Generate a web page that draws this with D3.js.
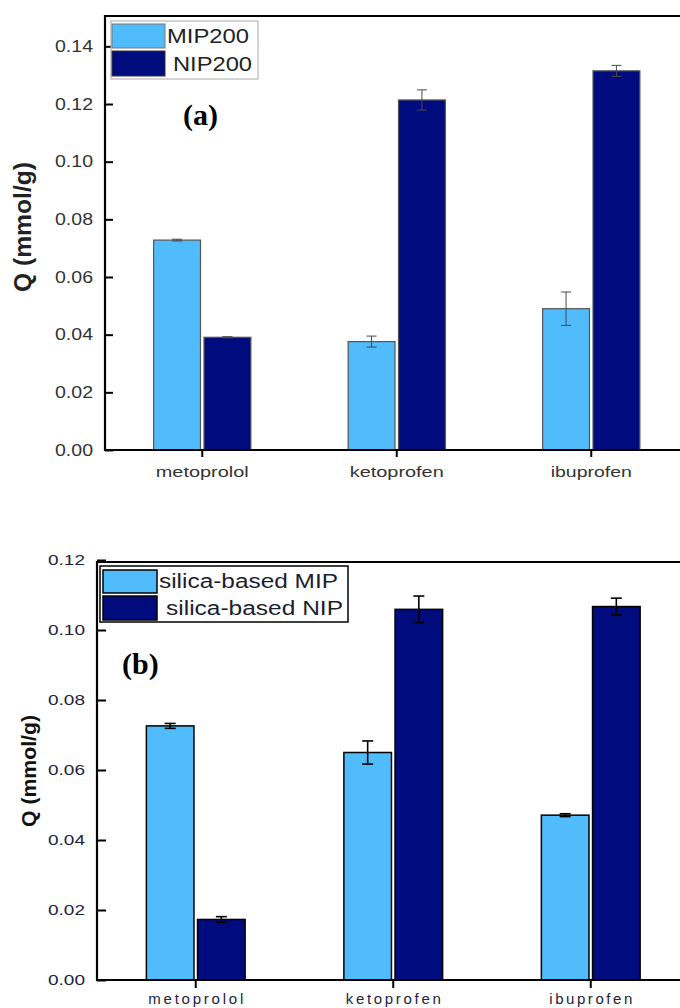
<!DOCTYPE html>
<html>
<head>
<meta charset="utf-8">
<script src="https://cdn.jsdelivr.net/npm/d3@7"></script>
<style>
  html, body { margin: 0; padding: 0; background: #fff; }
  svg { display: block; }
</style>
</head>
<body>
<svg id="chart" width="680" height="1008"></svg>
<script>
// ---------- data ----------
const categories = ["metoprolol", "ketoprofen", "ibuprofen"];

// panel (a)
const seriesA = ["MIP200", "NIP200"];
const mip200 = [0.0728, 0.0376, 0.0490];
const mip200Err = [0.0003, 0.0019, 0.0058];
const nip200 = [0.0391, 0.1214, 0.1315];
const nip200Err = [0.0002, 0.0035, 0.0019];
const ticksA = [0.00, 0.02, 0.04, 0.06, 0.08, 0.10, 0.12, 0.14];

// panel (b)
const seriesB = ["silica-based MIP", "silica-based NIP"];
const silicaMip = [0.0726, 0.0650, 0.0471];
const silicaMipErr = [0.0007, 0.0033, 0.0004];
const silicaNip = [0.0173, 0.1059, 0.1067];
const silicaNipErr = [0.0008, 0.0038, 0.0024];
const ticksB = [0.00, 0.02, 0.04, 0.06, 0.08, 0.10, 0.12];

const yLabel = "Q (mmol/g)";
const colors = ["#50bcfc", "#000c7d"];

const svg = d3.select("#chart");
const sans = "'Liberation Sans', Arial, sans-serif";
const serif = "'Liberation Serif', 'Times New Roman', serif";

function panel(cfg) {
  const g = svg.append("g");
  const x = d3.scaleBand().domain(categories).range([cfg.left, cfg.right])
    .paddingInner(0.5).paddingOuter(0.25);
  const sub = d3.scaleBand().domain(cfg.series).range([0, x.bandwidth()]).paddingInner(0.07);
  const y = d3.scaleLinear().domain(cfg.domain).range([cfg.bottom, cfg.top]);

  const rows = [];
  categories.forEach((c, i) => {
    cfg.values.forEach((vals, s) => {
      rows.push({cat: c, series: cfg.series[s], v: vals[i], e: cfg.errs[s][i], s});
    });
  });

  // bars
  g.selectAll("rect.bar").data(rows).join("rect")
    .attr("class", "bar")
    .attr("x", d => x(d.cat) + sub(d.series))
    .attr("width", sub.bandwidth())
    .attr("y", d => y(d.v))
    .attr("height", d => y(0) - y(d.v))
    .attr("fill", d => colors[d.s])
    .attr("stroke", cfg.barStroke)
    .attr("stroke-width", cfg.barStrokeW);

  // error bars
  const eg = g.selectAll("g.err").data(rows).join("g").attr("class", "err")
    .attr("stroke", cfg.errColor).attr("stroke-width", cfg.errW);
  eg.append("line")
    .attr("x1", d => x(d.cat) + sub(d.series) + sub.bandwidth() / 2)
    .attr("x2", d => x(d.cat) + sub(d.series) + sub.bandwidth() / 2)
    .attr("y1", d => y(d.v + d.e)).attr("y2", d => y(d.v - d.e));
  [1, -1].forEach(k => {
    eg.append("line")
      .attr("x1", d => x(d.cat) + sub(d.series) + sub.bandwidth() / 2 - cfg.cap)
      .attr("x2", d => x(d.cat) + sub(d.series) + sub.bandwidth() / 2 + cfg.cap)
      .attr("y1", d => y(d.v + k * d.e)).attr("y2", d => y(d.v + k * d.e));
  });

  // y axis (ticks inward)
  const ya = g.append("g").attr("transform", `translate(${cfg.left},0)`)
    .call(d3.axisLeft(y).tickValues(cfg.ticks).tickFormat(d3.format(".2f"))
      .tickSize(-cfg.yTick).tickPadding(12));
  ya.select(".domain").remove();
  ya.selectAll(".tick line").attr("stroke", "#000").attr("stroke-width", 2);
  ya.selectAll(".tick text")
    .attr("fill", cfg.tickColor)
    .style("font-family", sans).style("font-size", cfg.yFont + "px")
    .attr("textLength", cfg.yTextLen).attr("lengthAdjust", "spacingAndGlyphs");

  // x axis
  const xa = g.append("g").attr("transform", `translate(0,${cfg.bottom})`)
    .call(d3.axisBottom(x).tickSize(cfg.xTick).tickSizeOuter(0));
  xa.select(".domain").remove();
  xa.selectAll(".tick line").attr("stroke", "#000").attr("stroke-width", 2);
  xa.selectAll(".tick text")
    .attr("dy", null).attr("y", cfg.xLabelY)
    .attr("fill", cfg.tickColor)
    .style("font-family", sans).style("font-size", cfg.xFont + "px")
    .attr("textLength", (d, i) => cfg.xTextLen[i]).attr("lengthAdjust", cfg.xAdjust);

  // frame (open to the right, cut by the picture edge)
  g.append("path")
    .attr("d", `M${cfg.right},${cfg.frameTop}H${cfg.left}V${cfg.bottom}H${cfg.right}`)
    .attr("fill", "none").attr("stroke", "#000").attr("stroke-width", 2.2);

  // y label
  g.append("text")
    .attr("transform", `translate(${cfg.yLabelX},${cfg.yLabelY}) rotate(-90)`)
    .attr("text-anchor", "middle")
    .attr("fill", cfg.labelColor)
    .style("font-family", sans).style("font-size", cfg.yLabelFont + "px")
    .style("font-weight", "bold")
    .attr("textLength", cfg.yLabelLen).attr("lengthAdjust", "spacingAndGlyphs")
    .text(yLabel);

  // legend
  const L = cfg.legend;
  g.append("rect").attr("x", L.x).attr("y", L.y).attr("width", L.w).attr("height", L.h)
    .attr("fill", "#fff").attr("stroke", L.stroke).attr("stroke-width", L.strokeW);
  cfg.series.forEach((s, i) => {
    const it = L.items[i];
    g.append("rect").attr("x", it.sx).attr("y", it.sy).attr("width", it.sw).attr("height", it.sh)
      .attr("fill", colors[i]).attr("stroke", it.sstroke).attr("stroke-width", L.swStrokeW);
    g.append("text").attr("x", it.tx).attr("y", it.ty)
      .attr("fill", L.textColor)
      .style("font-family", sans).style("font-size", L.font + "px")
      .attr("textLength", it.tl).attr("lengthAdjust", "spacingAndGlyphs")
      .text(s);
  });

  // panel tag
  g.append("text").attr("x", cfg.tag.x).attr("y", cfg.tag.y)
    .style("font-family", serif).style("font-size", cfg.tag.font + "px")
    .style("font-weight", "bold").attr("fill", "#000")
    .text(cfg.tag.text);
}

panel({
  series: seriesA, values: [mip200, nip200], errs: [mip200Err, nip200Err],
  ticks: ticksA, domain: [0, 0.15],
  left: 105, right: 688.5, top: 17.5, bottom: 450, frameTop: 16,
  barStroke: "#555", barStrokeW: 1.2, errColor: "#4a4a4a", errW: 1, cap: 5,
  yTick: 8, xTick: 7, tickColor: "#333", yFont: 16, yTextLen: 38,
  xFont: 15, xLabelY: 27, xTextLen: [93, 94, 81], xAdjust: "spacingAndGlyphs",
  yLabelX: 31, yLabelY: 227, yLabelFont: 24, yLabelLen: 130, labelColor: "#222",
  legend: {
    x: 111, y: 21, w: 147, h: 58, stroke: "#aaa", strokeW: 1, swStrokeW: 1,
    textColor: "#222", font: 21,
    items: [
      {sx: 112, sy: 24, sw: 53, sh: 24, sstroke: "#777", tx: 167, ty: 43, tl: 82},
      {sx: 112, sy: 51, sw: 53, sh: 25, sstroke: "#333", tx: 173, ty: 71, tl: 79}
    ]
  },
  tag: {x: 183, y: 125, font: 30, text: "(a)"}
});

panel({
  series: seriesB, values: [silicaMip, silicaNip], errs: [silicaMipErr, silicaNipErr],
  ticks: ticksB, domain: [0, 0.12],
  left: 97, right: 689.5, top: 560, bottom: 980, frameTop: 562,
  barStroke: "#000", barStrokeW: 1.5, errColor: "#000", errW: 1.6, cap: 5.5,
  yTick: 9, xTick: 8, tickColor: "#1d2340", yFont: 15, yTextLen: 37,
  xFont: 15, xLabelY: 24, xTextLen: [95, 95, 83], xAdjust: "spacing",
  yLabelX: 36, yLabelY: 771, yLabelFont: 20, yLabelLen: 112, labelColor: "#111",
  legend: {
    x: 100, y: 566, w: 248, h: 56, stroke: "#000", strokeW: 1.5, swStrokeW: 1.5,
    textColor: "#1d1d30", font: 20,
    items: [
      {sx: 103, sy: 570, sw: 54, sh: 23, sstroke: "#000", tx: 159, ty: 588, tl: 179},
      {sx: 103, sy: 596, sw: 54, sh: 24, sstroke: "#000", tx: 166, ty: 615, tl: 177}
    ]
  },
  tag: {x: 122, y: 674, font: 30, text: "(b)"}
});
</script>
</body>
</html>
